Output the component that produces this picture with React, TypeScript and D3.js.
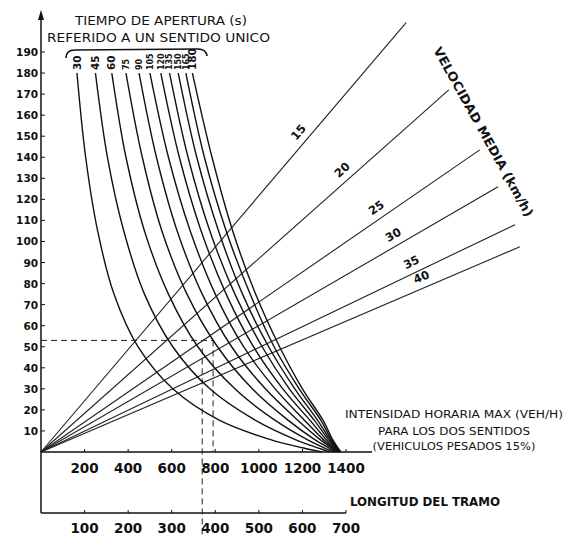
import React from 'react';
import * as d3 from 'd3';

// opening time curves (s) - intensity read at each travel time level
const openingTimes = [30, 45, 60, 75, 90, 105, 120, 135, 150, 165, 180];
const curveTimes = [180, 140, 105, 75, 50, 30, 15, 6, 2, 0];
const curveIntensity = [
  [165, 205, 260, 335, 445, 605, 820, 1050, 1200, 1290],
  [250, 305, 380, 475, 605, 775, 985, 1165, 1270, 1325],
  [325, 390, 475, 585, 720, 890, 1075, 1220, 1300, 1345],
  [390, 465, 555, 670, 810, 970, 1135, 1255, 1320, 1355],
  [450, 530, 625, 740, 875, 1030, 1180, 1280, 1332, 1360],
  [500, 585, 685, 800, 930, 1075, 1210, 1295, 1340, 1364],
  [550, 635, 735, 850, 975, 1110, 1235, 1308, 1346, 1367],
  [590, 675, 775, 890, 1015, 1140, 1255, 1318, 1352, 1370],
  [630, 715, 815, 925, 1045, 1165, 1270, 1326, 1356, 1372],
  [665, 750, 850, 960, 1070, 1185, 1285, 1332, 1360, 1374],
  [695, 785, 880, 985, 1095, 1200, 1295, 1338, 1363, 1376],
];

// speed lines (km/h), from origin to end point (length m, time s)
const speeds = [15, 20, 25, 30, 35, 40];
const speedEndLength = [838, 936, 1007, 1049, 1088, 1099];
const speedEndTime = [204, 172, 143.5, 126, 108, 97.5];
const speedLabelLength = [610, 708, 784, 821, 861, 883];

const yTicks = [10, 20, 30, 40, 50, 60, 70, 80, 90, 100, 110, 120, 130, 140, 150, 160, 170, 180, 190];
const intensityTicks = [200, 400, 600, 800, 1000, 1200, 1400];
const lengthTicks = [100, 200, 300, 400, 500, 600, 700];

// worked example (dashed)
const exampleTime = 53;
const exampleIntensity = 790;
const exampleLength = 370;

const font = '"DejaVu Sans", sans-serif';

export default function App() {
  const x = d3.scaleLinear().domain([0, 1400]).range([41, 346]);
  const xLen = d3.scaleLinear().domain([0, 700]).range([41, 346]);
  const y = d3.scaleLinear().domain([0, 190]).range([452, 52]);

  const curveLine = d3.line<[number, number]>()
    .x(d => x(d[0]))
    .y(d => y(d[1]))
    .curve(d3.curveCatmullRom.alpha(0.5));

  const baseY = y(0);
  const lenAxisY = 513;

  return (
    <svg width={576} height={536} style={{ position: 'absolute', left: 0, top: 0, background: '#fff' }}
      fontFamily={font}>
      <rect width={576} height={536} fill="#fff" />

      {/* title */}
      <text x={75} y={25} fontSize={12.5} textLength={172} lengthAdjust="spacingAndGlyphs" fill="#111">TIEMPO DE APERTURA (s)</text>
      <text x={47} y={42} fontSize={12.5} textLength={223} lengthAdjust="spacingAndGlyphs" fill="#111">REFERIDO A UN SENTIDO UNICO</text>
      <path d="M66,58 Q66,50 75,50 L198,49 Q206,49 207,56" fill="none" stroke="#111" strokeWidth={1.6} />

      {/* y axis */}
      <line x1={41} x2={41} y1={lenAxisY} y2={16} stroke="#111" strokeWidth={1.5} />
      <path d="M41,10 L38,20 L44,20 Z" fill="#111" />
      {yTicks.map(t => (
        <g key={t}>
          <line x1={41} x2={45} y1={y(t)} y2={y(t)} stroke="#111" strokeWidth={1} />
          <text x={38} y={y(t) + 4} fontSize={10.5} fontWeight="bold" textAnchor="end" fill="#111">{t}</text>
        </g>
      ))}

      {/* intensity axis */}
      <line x1={41} x2={372} y1={baseY} y2={baseY} stroke="#111" strokeWidth={1.5} />
      {intensityTicks.map(v => (
        <g key={v}>
          <line x1={x(v)} x2={x(v)} y1={baseY} y2={baseY - 3} stroke="#111" strokeWidth={1} />
          <text x={x(v)} y={473} fontSize={13.5} fontWeight="bold" textAnchor="middle" fill="#111">{v}</text>
        </g>
      ))}

      {/* length axis */}
      <line x1={41} x2={346} y1={lenAxisY} y2={lenAxisY} stroke="#111" strokeWidth={1.5} />
      {lengthTicks.map(v => (
        <g key={v}>
          <line x1={xLen(v)} x2={xLen(v)} y1={lenAxisY} y2={lenAxisY - 3} stroke="#111" strokeWidth={1} />
          <text x={xLen(v)} y={533} fontSize={13.5} fontWeight="bold" textAnchor="middle" fill="#111">{v}</text>
        </g>
      ))}
      <text x={350} y={506} fontSize={13} fontWeight="bold" textLength={150} lengthAdjust="spacingAndGlyphs" fill="#111">LONGITUD DEL TRAMO</text>

      {/* dashed example */}
      <g stroke="#222" strokeWidth={1} strokeDasharray="6 4" fill="none">
        <line x1={41} x2={x(exampleIntensity)} y1={y(exampleTime)} y2={y(exampleTime)} />
        <line x1={x(exampleIntensity)} x2={x(exampleIntensity)} y1={y(exampleTime)} y2={baseY} />
        <line x1={xLen(exampleLength)} x2={xLen(exampleLength)} y1={y(exampleTime) + 8} y2={536} />
      </g>

      {/* speed lines */}
      {speeds.map((s, i) => {
        const x1 = xLen(0), y1 = y(0);
        const x2 = xLen(speedEndLength[i]), y2 = y(speedEndTime[i]);
        const ang = Math.atan2(y2 - y1, x2 - x1);
        const lx = xLen(speedLabelLength[i]);
        const ly = y1 + (lx - x1) * Math.tan(ang);
        const off = 7;
        const px = lx + Math.sin(ang) * off;
        const py = ly - Math.cos(ang) * off;
        return (
          <g key={s}>
            <line x1={x1} y1={y1} x2={x2} y2={y2} stroke="#222" strokeWidth={1.1} />
            <text x={px} y={py} fontSize={11.5} fontWeight="bold" textAnchor="middle" fill="#111"
              transform={`rotate(${(ang * 180) / Math.PI},${px},${py})`}>{s}</text>
          </g>
        );
      })}

      {/* opening time curves */}
      {openingTimes.map((g, i) => {
        const pts = curveTimes.map((t, j) => [curveIntensity[i][j], t] as [number, number]);
        const tx = x(curveIntensity[i][0]);
        const big = i < 3 || i === openingTimes.length - 1;
        const fs = big ? 10.5 : 8;
        const lx = tx + fs * 0.35;
        const ly = y(curveTimes[0]) - 3;
        return (
          <g key={g}>
            <path d={curveLine(pts) || ''} fill="none" stroke="#111" strokeWidth={1.4} />
            <text x={lx} y={ly} fontSize={fs} fontWeight="bold" fill="#111"
              transform={`rotate(-90,${lx},${ly})`}>{g}</text>
          </g>
        );
      })}

      {/* speed title */}
      <text x={433} y={50} fontSize={12.5} fontWeight="bold" textLength={192} lengthAdjust="spacingAndGlyphs" fill="#111"
        transform="rotate(61,433,50)">VELOCIDAD MEDIA (km/h)</text>

      {/* intensity note */}
      <g fontSize={10} fill="#111" textAnchor="middle">
        <text x={454} y={418} textLength={218} lengthAdjust="spacingAndGlyphs">INTENSIDAD HORARIA MAX (VEH/H)</text>
        <text x={454} y={435} textLength={152} lengthAdjust="spacingAndGlyphs">PARA LOS DOS SENTIDOS</text>
        <text x={454} y={450} textLength={163} lengthAdjust="spacingAndGlyphs">(VEHICULOS PESADOS 15%)</text>
      </g>
    </svg>
  );
}
